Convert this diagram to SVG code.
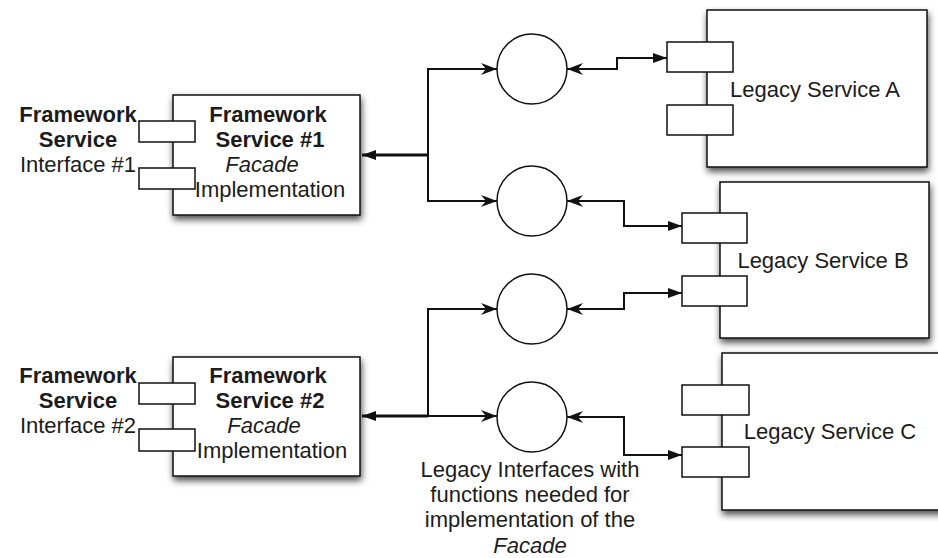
<svg xmlns="http://www.w3.org/2000/svg" width="938" height="558" viewBox="0 0 938 558">
  <style>
    text { font-family: "Liberation Sans", Arial, sans-serif; font-size: 22px; fill: #1c1c1c; text-anchor: middle; }
    .b { font-weight: bold; }
    .i { font-style: italic; }
    .box { fill: #fff; stroke: #111; stroke-width: 1.5; filter: url(#shadow); }
    .port { fill: #fff; stroke: #111; stroke-width: 1.5; }
    .iface { fill: #fff; stroke: #111; stroke-width: 1.5; }
    .wire { fill: none; stroke: #111; stroke-width: 2; }
    .main { fill: none; stroke: #111; stroke-width: 3; }
  </style>
  <defs>
    <filter id="shadow" x="-10%" y="-10%" width="125%" height="130%">
      <feDropShadow dx="1" dy="4" stdDeviation="3.5" flood-color="#000" flood-opacity="0.7"/>
    </filter>
    <marker id="solid" viewBox="0 0 14 10" refX="14" refY="5" markerWidth="14" markerHeight="10" markerUnits="userSpaceOnUse" orient="auto-start-reverse">
      <path d="M0,0 L14,5 L0,10 z" fill="#111"/>
    </marker>
    <marker id="notch" viewBox="0 0 16 12" refX="16" refY="6" markerWidth="16" markerHeight="12" markerUnits="userSpaceOnUse" orient="auto-start-reverse">
      <path d="M0,0 L16,6 L0,12 L5,6 z" fill="#111"/>
    </marker>
  </defs>

  <!-- Legacy services -->
  <g id="legacy-a">
    <rect class="box" x="707" y="10" width="220" height="157"/>
    <rect class="port" x="667" y="42" width="66" height="30"/>
    <rect class="port" x="667" y="105" width="66" height="30"/>
    <text x="815" y="97">Legacy Service A</text>
  </g>
  <g id="legacy-b">
    <rect class="box" x="720" y="182" width="209" height="156"/>
    <rect class="port" x="682" y="213" width="65" height="30"/>
    <rect class="port" x="682" y="276" width="65" height="30"/>
    <text x="823" y="268">Legacy Service B</text>
  </g>
  <g id="legacy-c">
    <rect class="box" x="722" y="353" width="226" height="157"/>
    <rect class="port" x="682" y="385" width="67" height="30"/>
    <rect class="port" x="682" y="447" width="67" height="30"/>
    <text x="830" y="439">Legacy Service C</text>
  </g>

  <!-- Facade implementations -->
  <g id="framework-1">
    <rect class="box" x="173" y="95" width="187" height="120"/>
    <rect class="port" x="139" y="121" width="56" height="21"/>
    <rect class="port" x="139" y="168" width="56" height="21"/>
    <text class="b" x="78" y="122">Framework</text>
    <text class="b" x="78" y="147">Service</text>
    <text x="78" y="172">Interface #1</text>
    <text class="b" x="268" y="122">Framework</text>
    <text class="b" x="270" y="147">Service #1</text>
    <text class="i" x="262" y="172">Facade</text>
    <text x="270" y="197">Implementation</text>
  </g>
  <g id="framework-2">
    <rect class="box" x="173" y="357" width="187" height="119"/>
    <rect class="port" x="139" y="383" width="56" height="21"/>
    <rect class="port" x="139" y="429" width="56" height="22"/>
    <text class="b" x="78" y="383">Framework</text>
    <text class="b" x="78" y="408">Service</text>
    <text x="78" y="433">Interface #2</text>
    <text class="b" x="268" y="383">Framework</text>
    <text class="b" x="270" y="408">Service #2</text>
    <text class="i" x="264" y="433">Facade</text>
    <text x="272" y="458">Implementation</text>
  </g>

  <!-- Legacy interfaces -->
  <g id="iface-1"><circle class="iface" cx="532" cy="69" r="35"/></g>
  <g id="iface-2"><circle class="iface" cx="532" cy="201" r="35"/></g>
  <g id="iface-3"><circle class="iface" cx="532" cy="309" r="35"/></g>
  <g id="iface-4"><circle class="iface" cx="532" cy="417" r="35"/></g>

  <g id="note">
    <text x="530" y="477">Legacy Interfaces with</text>
    <text x="530" y="502">functions needed for</text>
    <text x="530" y="527">implementation of the</text>
    <text class="i" x="530" y="553">Facade</text>
  </g>

  <!-- Connectors -->
  <g id="connectors">
    <path class="main" d="M428,155 L362,155" marker-end="url(#solid)"/>
    <path class="wire" d="M428,155 L428,69 L497,69" marker-end="url(#notch)"/>
    <path class="wire" d="M428,155 L428,201 L497,201" marker-end="url(#notch)"/>
    <path class="wire" d="M567,69 L617,69 L617,58 L667,58" marker-start="url(#notch)" marker-end="url(#solid)"/>
    <path class="wire" d="M567,201 L624,201 L624,226 L682,226" marker-start="url(#notch)" marker-end="url(#solid)"/>

    <path class="main" d="M428,416 L362,416" marker-end="url(#solid)"/>
    <path class="wire" d="M428,416 L428,309 L497,309" marker-end="url(#notch)"/>
    <path class="wire" d="M428,416 L497,416" marker-end="url(#notch)"/>
    <path class="wire" d="M567,309 L624,309 L624,293 L682,293" marker-start="url(#notch)" marker-end="url(#solid)"/>
    <path class="wire" d="M567,417 L624,417 L624,455 L682,455" marker-start="url(#notch)" marker-end="url(#solid)"/>
  </g>
</svg>
